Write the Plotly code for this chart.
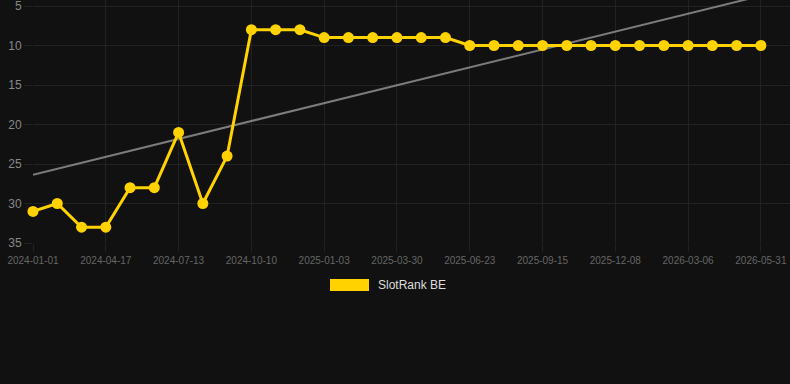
import numpy as np
import plotly.graph_objects as go

dates = [
    "2024-01-01", "2024-02-05", "2024-03-12", "2024-04-17", "2024-05-16", "2024-06-14",
    "2024-07-13", "2024-08-12", "2024-09-10", "2024-10-10", "2024-11-07", "2024-12-05",
    "2025-01-03", "2025-01-31", "2025-03-01", "2025-03-30", "2025-04-27", "2025-05-25",
    "2025-06-23", "2025-07-21", "2025-08-18", "2025-09-15", "2025-10-13", "2025-11-10",
    "2025-12-08", "2026-01-06", "2026-02-05", "2026-03-06", "2026-04-04", "2026-05-02",
    "2026-05-31",
]
rank = [31, 30, 33, 33, 28, 28, 21, 30, 24, 8, 8, 8, 9, 9, 9, 9, 9, 9,
        10, 10, 10, 10, 10, 10, 10, 10, 10, 10, 10, 10, 10]
y_ticks = [5, 10, 15, 20, 25, 30, 35]
series_name = "SlotRank BE"

YELLOW = "#ffd200"
BG = "#111111"
GRID = "#222222"

idx = np.arange(len(rank))
slope, intercept = np.polyfit(idx, rank, 1)
trend = slope * idx + intercept

fig = go.Figure()
fig.add_trace(go.Scatter(
    x=dates, y=trend, mode="lines",
    line=dict(color="rgba(160,160,160,0.75)", width=2),
    hoverinfo="skip", showlegend=False, cliponaxis=True,
))
fig.add_trace(go.Scatter(
    x=dates, y=rank, mode="lines+markers", name=series_name,
    line=dict(color=YELLOW, width=3),
    marker=dict(color=YELLOW, size=11),
    showlegend=False, cliponaxis=False,
))

fig.update_layout(
    width=790, height=384,
    margin=dict(l=33, r=0, t=0, b=141),
    paper_bgcolor=BG, plot_bgcolor=BG,
    font=dict(family="Liberation Sans, Arial, sans-serif"),
    showlegend=False,
)
fig.update_xaxes(
    type="category", range=[0, 31.2],
    tickvals=dates[::3], ticktext=dates[::3],
    showgrid=True, gridcolor=GRID, gridwidth=1,
    ticks="outside", ticklen=8, tickcolor=GRID,
    tickfont=dict(size=10, color="#666666"),
    showline=False, zeroline=False,
)
fig.update_yaxes(
    range=[35, 5 - 6 / 7.9],
    tickvals=y_ticks,
    showgrid=True, gridcolor=GRID, gridwidth=1,
    ticks="outside", ticklen=8, tickcolor=GRID,
    tickfont=dict(size=12, color="#888888"),
    ticklabeloverflow="allow",
    showline=False, zeroline=False,
)

# legend drawn as a swatch + label below the plot
fig.add_shape(type="rect", xref="paper", yref="paper",
              x0=(330 - 33) / 757, x1=(369 - 33) / 757,
              y0=-(279 - 243) / 243, y1=-(291 - 243) / 243,
              fillcolor=YELLOW, line=dict(width=0))
fig.add_annotation(xref="paper", yref="paper",
                   x=(376 - 33) / 757, y=-(285 - 243) / 243,
                   xanchor="left", yanchor="middle", showarrow=False,
                   text=series_name, font=dict(size=12, color="#dddddd"))

fig.write_html("out.html")
